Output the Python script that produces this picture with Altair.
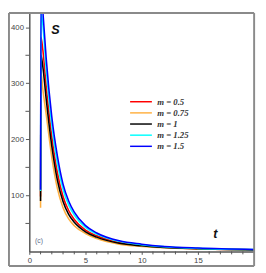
import altair as alt
import pandas as pd

# ---- data ----
t = [1.0, 1.04, 1.2, 1.5, 2.0, 2.5, 3.0, 3.5, 4.0, 5.0, 6.0, 8.0, 10.0, 12.0, 15.0, 20.0]
s_m05 = [98, 382, 360, 295, 205, 140, 98, 73, 57, 38, 28, 16, 11, 7.5, 5.0, 3.0]
s_m075 = [78, 320, 290, 245, 168, 112, 78, 58, 46, 32, 23, 13, 9, 6.5, 4.5, 2.5]
s_m1 = [90, 350, 330, 272, 188, 127, 89, 66, 52, 35, 25.5, 14.5, 10, 7.0, 4.8, 2.8]
s_m125 = [108, 425, 405, 325, 225, 157, 111, 83, 65, 43, 31, 18, 12, 8.5, 5.5, 3.3]
s_m15 = [110, 470, 430, 345, 240, 170, 120, 90, 70, 46, 33, 19, 13, 9.0, 6.0, 3.5]

labels = ["m = 0.5", "m = 0.75", "m = 1", "m = 1.25", "m = 1.5"]
colors = ["#ff0000", "#ffb040", "#000000", "#00ffff", "#0000ff"]
series = [s_m05, s_m075, s_m1, s_m125, s_m15]

x_major = [0, 5, 10, 15]
x_minor = [v for v in range(1, 21) if v % 5 != 0]
y_major = [100, 200, 300, 400]
y_minor = [50, 150, 250, 350]

rows = []
for lab, vals in zip(labels, series):
    for tt, v in zip(t, vals):
        rows.append({"t": tt, "S": v, "m": lab})
df = pd.DataFrame(rows)

AX = "#555555"
x_scale = alt.Scale(domain=[0, 20], nice=False, zero=False)
y_scale = alt.Scale(domain=[0, 427], nice=False)

x_axis = alt.Axis(values=x_major, title=None, grid=False,
                  tickSize=3, tickColor=AX, domainColor=AX, domainWidth=1.5,
                  labelColor="#444444", labelFont="Liberation Sans", labelFontSize=8,
                  labelOverlap=False, labelFlush=False, labelPadding=2)
y_axis = alt.Axis(values=y_major, title=None, grid=False,
                  tickSize=4, tickColor=AX, domainColor=AX, domainWidth=1.5,
                  labelColor="#444444", labelFont="Liberation Sans", labelFontSize=8,
                  labelOverlap=False, labelPadding=2)

lines = alt.Chart(df).mark_line(clip=True, strokeWidth=1.6, interpolate="monotone").encode(
    x=alt.X("t:Q", scale=x_scale, axis=x_axis),
    y=alt.Y("S:Q", scale=y_scale, axis=y_axis),
    color=alt.Color("m:N", scale=alt.Scale(domain=labels, range=colors),
                    legend=alt.Legend(orient="none", legendX=103, legendY=87, title=None,
                                      symbolType="M-1,0H4", symbolSize=81, symbolStrokeWidth=1.5,
                                      labelFont="Liberation Serif", labelFontStyle="italic",
                                      labelFontWeight="bold", labelFontSize=9, labelColor="#333333",
                                      rowPadding=0.5, labelOffset=18)),
)

# minor ticks
xm = alt.Chart(pd.DataFrame({"t": x_minor})).mark_rule(color=AX, strokeWidth=1).encode(
    x=alt.X("t:Q", scale=x_scale, axis=x_axis), y=alt.value(247), y2=alt.value(250))
ym = alt.Chart(pd.DataFrame({"S": y_minor})).mark_rule(color=AX, strokeWidth=1).encode(
    y=alt.Y("S:Q", scale=y_scale, axis=y_axis), x=alt.value(-4), x2=alt.value(0))

dummy = pd.DataFrame({"a": [0]})
FR = "#8a8a8a"
frame = alt.layer(
    alt.Chart(dummy).mark_rule(color=FR, strokeWidth=2).encode(x=alt.value(-21), y=alt.value(1), y2=alt.value(262)),
    alt.Chart(dummy).mark_rule(color=FR, strokeWidth=2).encode(x=alt.value(232), y=alt.value(1), y2=alt.value(262)),
    alt.Chart(dummy).mark_rule(color=FR, strokeWidth=2).encode(x=alt.value(-21), x2=alt.value(232), y=alt.value(1)),
    alt.Chart(dummy).mark_rule(color=FR, strokeWidth=2).encode(x=alt.value(-21), x2=alt.value(232), y=alt.value(262)),
)

def note(txt, tx, sy, **kw):
    d = pd.DataFrame({"t": [tx], "S": [sy]})
    return alt.Chart(d).mark_text(text=txt, **kw).encode(
        x=alt.X("t:Q", scale=x_scale, axis=x_axis),
        y=alt.Y("S:Q", scale=y_scale, axis=y_axis))

s_label = note("S", 2.33, 394, font="Liberation Sans", fontStyle="italic",
               fontWeight="bold", fontSize=13, color="#111111")
t_label = note("t", 16.55, 31, font="Liberation Sans", fontStyle="italic",
               fontWeight="bold", fontSize=13, color="#111111")
c_label = note("(c)", 0.86, 19, font="Liberation Sans", fontSize=7, color="#5a6a8a")

chart = alt.layer(lines, xm, ym, s_label, t_label, c_label, frame).properties(
    width=232, height=247,
    autosize=alt.AutoSizeParams(type="none"),
    padding={"left": 22, "top": 0, "right": 4, "bottom": 18},
    background="white",
).configure_view(stroke=None)

chart.save("out.html", embed_options={"renderer": "svg", "actions": False})
